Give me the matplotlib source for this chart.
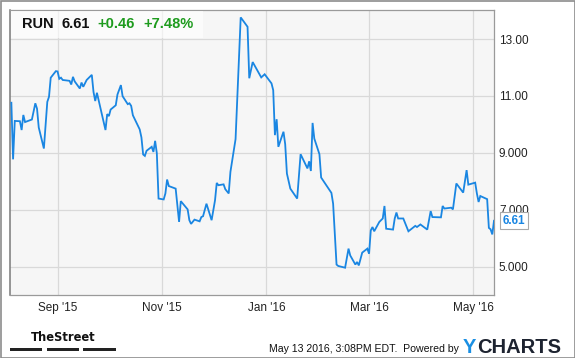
import matplotlib
matplotlib.use("Agg")
import matplotlib.pyplot as plt
import matplotlib.dates as mdates
from matplotlib.patches import Rectangle
from matplotlib import font_manager
import datetime as dt

# ---------------- data ----------------
ticker = "RUN"
last_price = "6.61"
change_abs = "+0.46"
change_pct = "+7.48%"

dates = [
    "2015-08-05", "2015-08-06", "2015-08-07", "2015-08-10", "2015-08-11", "2015-08-12",
    "2015-08-13", "2015-08-17", "2015-08-19", "2015-08-20", "2015-08-21", "2015-08-24",
    "2015-08-26", "2015-08-27", "2015-08-28", "2015-08-31", "2015-09-01", "2015-09-02",
    "2015-09-03", "2015-09-04", "2015-09-08", "2015-09-09", "2015-09-10", "2015-09-11",
    "2015-09-14", "2015-09-15", "2015-09-16", "2015-09-18", "2015-09-21", "2015-09-22",
    "2015-09-23", "2015-09-24", "2015-09-29", "2015-09-30", "2015-10-01", "2015-10-02",
    "2015-10-05", "2015-10-06", "2015-10-08", "2015-10-09", "2015-10-12", "2015-10-13",
    "2015-10-14", "2015-10-15", "2015-10-19", "2015-10-20", "2015-10-21", "2015-10-22",
    "2015-10-23", "2015-10-26", "2015-10-27", "2015-10-28", "2015-10-29", "2015-10-30",
    "2015-11-02", "2015-11-03", "2015-11-04", "2015-11-05", "2015-11-09", "2015-11-10",
    "2015-11-11", "2015-11-12", "2015-11-16", "2015-11-17", "2015-11-18", "2015-11-20",
    "2015-11-23", "2015-11-24", "2015-11-25", "2015-11-27", "2015-11-30", "2015-12-02",
    "2015-12-03", "2015-12-04", "2015-12-07", "2015-12-08", "2015-12-10", "2015-12-11",
    "2015-12-14", "2015-12-17", "2015-12-21", "2015-12-22", "2015-12-24", "2015-12-29",
    "2015-12-31", "2016-01-04", "2016-01-05", "2016-01-06", "2016-01-07", "2016-01-08",
    "2016-01-11", "2016-01-12", "2016-01-13", "2016-01-15", "2016-01-19", "2016-01-21",
    "2016-01-25", "2016-01-26", "2016-01-27", "2016-01-28", "2016-01-29", "2016-02-01",
    "2016-02-02", "2016-02-03", "2016-02-08", "2016-02-09", "2016-02-11", "2016-02-12",
    "2016-02-16", "2016-02-18", "2016-02-19", "2016-02-22", "2016-02-23", "2016-02-24",
    "2016-02-26", "2016-02-29", "2016-03-01", "2016-03-02", "2016-03-03", "2016-03-04",
    "2016-03-07", "2016-03-09", "2016-03-10", "2016-03-11", "2016-03-15", "2016-03-16",
    "2016-03-17", "2016-03-18", "2016-03-21", "2016-03-24", "2016-03-28", "2016-03-29",
    "2016-03-31", "2016-04-04", "2016-04-06", "2016-04-07", "2016-04-12", "2016-04-13",
    "2016-04-14", "2016-04-18", "2016-04-19", "2016-04-21", "2016-04-25", "2016-04-27",
    "2016-04-28", "2016-05-02", "2016-05-03", "2016-05-04", "2016-05-05", "2016-05-09",
    "2016-05-10", "2016-05-11", "2016-05-12", "2016-05-13",
]
prices = [
    10.76, 8.77, 10.12, 10.11, 9.80, 10.33,
    10.08, 10.17, 10.74, 10.55, 9.89, 9.15,
    10.79, 10.97, 11.64, 11.87, 11.86, 11.60,
    11.64, 11.56, 11.53, 11.40, 11.67, 11.51,
    11.26, 11.47, 11.32, 11.56, 11.74, 11.14,
    10.82, 11.11, 9.80, 10.36, 10.29, 10.52,
    10.67, 11.05, 11.38, 10.99, 10.71, 10.74,
    10.65, 10.32, 9.82, 9.54, 8.94, 8.89,
    9.07, 9.21, 9.03, 9.42, 8.98, 7.39,
    7.36, 7.57, 8.06, 7.83, 7.74, 7.15,
    6.57, 7.30, 7.01, 6.63, 6.50, 6.65,
    6.59, 6.74, 6.77, 7.21, 6.63, 7.33,
    7.94, 7.86, 7.89, 7.72, 7.57, 8.33,
    9.48, 13.76, 13.43, 11.62, 12.19, 11.65,
    11.76, 11.44, 11.20, 9.62, 10.18, 9.21,
    9.74, 9.30, 8.27, 7.74, 7.39, 8.95,
    8.45, 8.70, 8.36, 10.05, 9.50, 8.95,
    8.13, 8.04, 7.59, 7.21, 5.07, 5.02,
    4.96, 5.63, 5.39, 5.07, 5.16, 5.04,
    5.49, 5.63, 5.45, 6.27, 6.39, 6.24,
    6.57, 6.69, 7.13, 6.33, 6.30, 6.69,
    6.90, 6.69, 6.69, 6.24, 6.43, 6.39,
    6.48, 6.30, 6.95, 6.74, 6.73, 7.13,
    7.04, 7.07, 7.01, 7.92, 7.60, 8.39,
    7.88, 7.95, 7.57, 7.27, 7.48, 7.37,
    6.36, 6.31, 6.13, 6.61,
]

x_tick_dates = ["2015-09-01", "2015-11-01", "2016-01-01", "2016-03-01", "2016-05-01"]
x_tick_labels = ["Sep '15", "Nov '15", "Jan '16", "Mar '16", "May '16"]
y_ticks = [5, 7, 9, 11, 13]
y_tick_labels = ["5.000", "7.000", "9.000", "11.00", "13.00"]

footer_time = "May 13 2016, 3:08PM EDT.  Powered by"

# ---------------- figure ----------------
W, H = 575, 358
plt.rcParams["font.family"] = ["Liberation Sans", "DejaVu Sans"]
fig = plt.figure(figsize=(W / 100, H / 100), dpi=100)
fig.patch.set_facecolor("white")


def fx(x):
    return x / W


def fy(y):
    return 1 - y / H


# outer border
fig.add_artist(Rectangle((0.5 / W, 0.5 / H), (W - 1) / W, (H - 1) / H,
                         transform=fig.transFigure, fill=False,
                         ec="#8c8c8c", lw=1.2, zorder=0))

ax = fig.add_axes([fx(10), fy(295), (494 - 10) / W, (295 - 10) / H])
ax.set_facecolor("#f6f6f6")

d = [dt.datetime.strptime(s, "%Y-%m-%d") for s in dates]
ax.plot(d, prices, color="#1a86e2", lw=1.3, zorder=3, solid_joinstyle="miter")

ax.set_xlim(dt.datetime(2015, 8, 4, 5), dt.datetime(2016, 5, 13, 0))
ax.set_ylim(4.0, 14.02)

ax.set_xticks([dt.datetime.strptime(s, "%Y-%m-%d") for s in x_tick_dates])
ax.set_xticklabels(x_tick_labels)
ax.set_yticks(y_ticks)
ax.set_yticklabels(y_tick_labels)
ax.yaxis.tick_right()
ax.tick_params(axis="both", length=0, labelsize=8.5, colors="#222222")
ax.tick_params(axis="x", pad=5)
ax.tick_params(axis="y", pad=3.5)
ax.grid(True, color="#d9d9d9", lw=0.9)
ax.set_axisbelow(True)
for s in ["top", "right", "bottom"]:
    ax.spines[s].set_color("#9a9a9a")
    ax.spines[s].set_linewidth(0.9)
ax.spines["left"].set_color("#7a7a7a")
ax.spines["left"].set_linewidth(1.1)

# last value box
ax.annotate(last_price, xy=(d[-1], prices[-1]), xytext=(20, 0),
            textcoords="offset pixels", ha="center", va="center",
            fontsize=8.5, fontweight="bold", color="#1a86e2",
            bbox=dict(boxstyle="square,pad=0.22", fc="white", ec="#a8a8a8", lw=0.8),
            annotation_clip=False, zorder=5)

# header box
fig.add_artist(Rectangle((fx(10.5), fy(37.5)), (203 - 10.5) / W, 27 / H,
                         transform=fig.transFigure, fc="white", alpha=0.6,
                         ec="none", zorder=4))
hdr_y = fy(28.3)
fig.text(fx(22), hdr_y, ticker, fontsize=10.5, fontweight="bold", color="#111111",
         va="baseline", zorder=5)
fig.text(fx(61), hdr_y, last_price, fontsize=10.5, fontweight="bold", color="#111111",
         va="baseline", zorder=5)
fig.text(fx(97), hdr_y, change_abs, fontsize=10.5, fontweight="bold", color="#1e9b1e",
         va="baseline", zorder=5)
fig.text(fx(143), hdr_y, change_pct, fontsize=10.5, fontweight="bold", color="#1e9b1e",
         va="baseline", zorder=5)

# footer: TheStreet logo (condensed face if available)
logo_family = ["Liberation Sans"]
logo_stretch = "normal"
logo_size = 9.0
try:
    fp = font_manager.FontProperties(family="DejaVu Sans", weight="bold", stretch="condensed")
    path = font_manager.findfont(fp, fallback_to_default=False)
    if "Condensed" in path:
        logo_family = ["DejaVu Sans"]
        logo_stretch = "condensed"
        logo_size = 9.2
except Exception:
    pass
fig.text(fx(63.5), fy(340.7), "TheStreet", fontsize=logo_size, fontweight="bold",
         family=logo_family, fontstretch=logo_stretch, color="#111111",
         ha="center", va="baseline")
for x0, x1 in [(10, 42.3), (46.7, 79), (83.3, 115.7)]:
    fig.add_artist(Rectangle((fx(x0), fy(350.5)), (x1 - x0) / W, 2.6 / H,
                             transform=fig.transFigure, fc="#222222", ec="none"))

fig.text(fx(459), fy(352.4), footer_time, fontsize=7.6, color="#111111",
         ha="right", va="baseline")
t1 = fig.text(fx(463), fy(353), "Y", fontsize=14.5, fontweight="bold",
              color="#1a8fe3", va="baseline")
fig.canvas.draw()
bb = t1.get_window_extent()
fig.text(bb.x1 / W + 0.8 / W, fy(353), "CHARTS", fontsize=14.5, fontweight="bold",
         color="#1d2330", va="baseline")

fig.savefig("out.png", dpi=100, facecolor="white")
